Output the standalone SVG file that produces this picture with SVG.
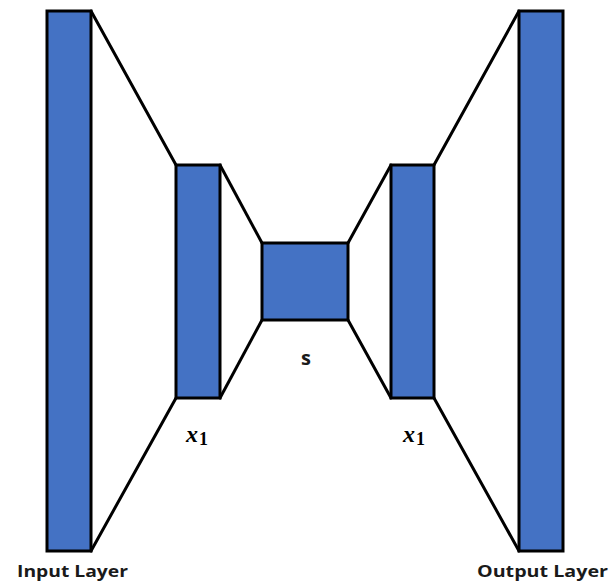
<svg xmlns="http://www.w3.org/2000/svg" width="613" height="588" viewBox="0 0 613 588">
<style>
.layer{fill:#4472C4;stroke:#000;stroke-width:3}
.conn{stroke:#000;stroke-width:3;fill:none;stroke-linecap:round}
.lbl{font-family:"Open Sans","DejaVu Sans",sans-serif;font-weight:bold;font-size:16px;fill:#1a1a1a}
.s{font-family:"Open Sans","DejaVu Sans",sans-serif;font-weight:bold;font-size:20px;fill:#1a1a1a}
.math{font-family:"Liberation Serif","DejaVu Serif",serif;font-size:24px;fill:#000;font-weight:bold}
.mx{font-style:italic}
.sub{font-size:18px;font-style:normal}
</style>
<rect width="613" height="588" fill="#fff"/>
<g id="connectors">
<line class="conn" x1="91" y1="11" x2="176" y2="165"/>
<line class="conn" x1="91" y1="551" x2="176" y2="398"/>
<line class="conn" x1="220" y1="165" x2="262" y2="243"/>
<line class="conn" x1="220" y1="398" x2="262" y2="320"/>
<line class="conn" x1="348" y1="243" x2="391" y2="165"/>
<line class="conn" x1="348" y1="320" x2="391" y2="398"/>
<line class="conn" x1="434" y1="165" x2="519" y2="11"/>
<line class="conn" x1="434" y1="398" x2="519" y2="551"/>
</g>
<g id="input-layer">
<rect class="layer" x="47" y="11" width="44" height="540"/>
<text class="lbl" x="17" y="577" textLength="111" lengthAdjust="spacingAndGlyphs">Input Layer</text>
</g>
<g id="hidden-left">
<rect class="layer" x="176" y="165" width="44" height="233"/>
<text class="math" x="186" y="442"><tspan class="mx">x</tspan><tspan class="sub" dx="1" dy="3">1</tspan></text>
</g>
<g id="latent">
<rect class="layer" x="262" y="243" width="86" height="77"/>
<text class="s" x="306" y="365" text-anchor="middle">s</text>
</g>
<g id="hidden-right">
<rect class="layer" x="391" y="165" width="43" height="233"/>
<text class="math" x="403" y="442"><tspan class="mx">x</tspan><tspan class="sub" dx="1" dy="3">1</tspan></text>
</g>
<g id="output-layer">
<rect class="layer" x="519" y="11" width="44" height="540"/>
<text class="lbl" x="477" y="577" textLength="131" lengthAdjust="spacingAndGlyphs">Output Layer</text>
</g>
</svg>
